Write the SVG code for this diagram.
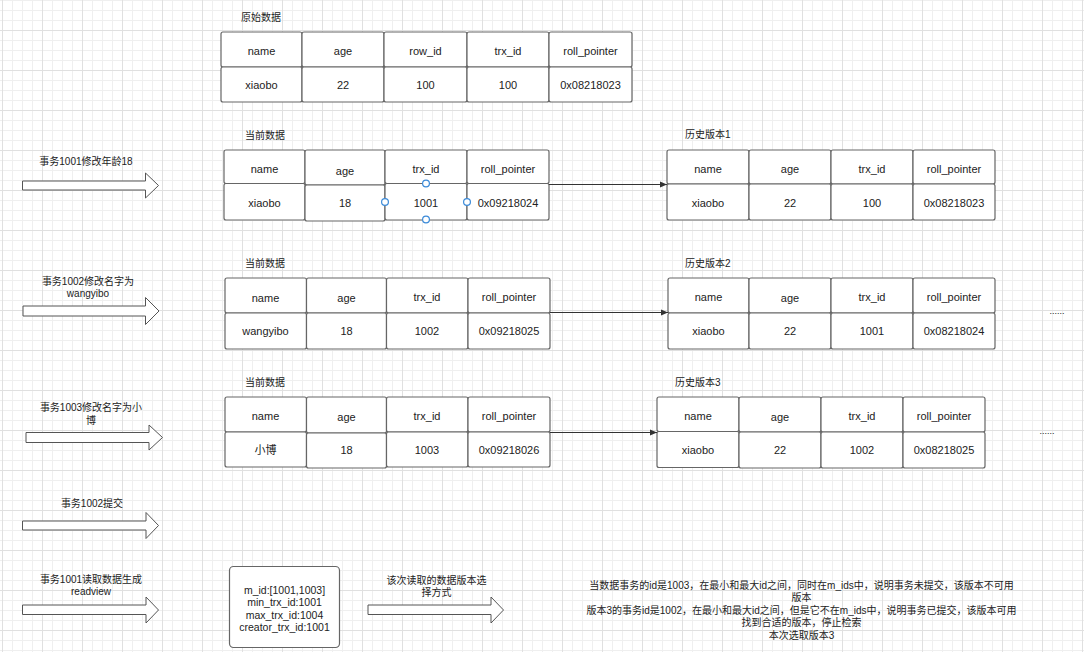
<svg xmlns="http://www.w3.org/2000/svg" width="1084" height="652" viewBox="0 0 1084 652">
<style>
.c{fill:#fff;stroke:#666;stroke-width:1.2}
.t{font-family:"Liberation Sans","Noto Sans CJK SC",sans-serif;font-size:11px;fill:#222;text-anchor:middle;dominant-baseline:central}
.z{font-family:"Liberation Sans","Noto Sans CJK SC",sans-serif;font-size:10px;fill:#222;dominant-baseline:central}
.m{text-anchor:middle}
.rv{font-size:10.5px}
.ba{fill:#fff;stroke:#555;stroke-width:1}
.cn{fill:none;stroke:#333;stroke-width:1}
.h{fill:#fff;stroke:#3b8ad8;stroke-width:1.2}
</style>
<defs>
<pattern id="grid" width="40" height="40" x="2" y="-10" patternUnits="userSpaceOnUse">
<rect width="40" height="40" fill="#fff"/>
<rect x="10" width="1" height="40" fill="#efefef"/><rect x="20" width="1" height="40" fill="#efefef"/><rect x="30" width="1" height="40" fill="#efefef"/>
<rect y="10" width="40" height="1" fill="#efefef"/><rect y="20" width="40" height="1" fill="#efefef"/><rect y="30" width="40" height="1" fill="#efefef"/>
<rect x="0" width="1" height="40" fill="#e0e0e0"/><rect y="0" width="40" height="1" fill="#e0e0e0"/>
</pattern>
<marker id="ah" markerWidth="8" markerHeight="8" refX="7" refY="4" orient="auto" markerUnits="userSpaceOnUse">
<path d="M0,1 L7,4 L0,7 Z" fill="#333"/>
</marker>
</defs>
<rect width="1084" height="652" fill="url(#grid)"/>

<g id="t-orig">
<text class="z" x="241" y="17">原始数据</text>
<rect class="c" x="221" y="32" width="81" height="35" rx="2"/><rect class="c" x="221" y="67" width="81" height="35" rx="2"/>
<rect class="c" x="302" y="32" width="82" height="35" rx="2"/><rect class="c" x="302" y="67" width="82" height="35" rx="2"/>
<rect class="c" x="384" y="32" width="83" height="35" rx="2"/><rect class="c" x="384" y="67" width="83" height="35" rx="2"/>
<rect class="c" x="467" y="32" width="82" height="35" rx="2"/><rect class="c" x="467" y="67" width="82" height="35" rx="2"/>
<rect class="c" x="549" y="32" width="83" height="35" rx="2"/><rect class="c" x="549" y="67" width="83" height="35" rx="2"/>
<text class="t" x="261.5" y="50.5">name</text><text class="t" x="261.5" y="85">xiaobo</text>
<text class="t" x="343" y="50.5">age</text><text class="t" x="343" y="85">22</text>
<text class="t" x="425.5" y="50.5">row_id</text><text class="t" x="425.5" y="85">100</text>
<text class="t" x="508" y="50.5">trx_id</text><text class="t" x="508" y="85">100</text>
<text class="t" x="590.5" y="50.5">roll_pointer</text><text class="t" x="590.5" y="85">0x08218023</text>
</g>

<g id="t-cur1">
<text class="z" x="245" y="135">当前数据</text>
<rect class="c" x="224" y="150" width="81" height="33.5" rx="2"/><rect class="c" x="224" y="183.5" width="81" height="36.5" rx="2"/>
<rect class="c" x="305" y="150" width="80" height="35" rx="2"/><rect class="c" x="305" y="185" width="80" height="36" rx="2"/>
<rect class="c" x="385" y="150" width="82" height="33.5" rx="2"/><rect class="c" x="385" y="183.5" width="82" height="36.5" rx="2"/>
<rect class="c" x="467" y="150" width="82" height="33.5" rx="2"/><rect class="c" x="467" y="183.5" width="82" height="36.5" rx="2"/>
<text class="t" x="264.5" y="169">name</text><text class="t" x="264.5" y="203">xiaobo</text>
<text class="t" x="345" y="170.5">age</text><text class="t" x="345" y="203">18</text>
<text class="t" x="426" y="168.5">trx_id</text><text class="t" x="426" y="203">1001</text>
<text class="t" x="508" y="168.5">roll_pointer</text><text class="t" x="508" y="203">0x09218024</text>
<circle class="h" cx="426" cy="183.5" r="3.4"/>
<circle class="h" cx="385" cy="202" r="3.4"/>
<circle class="h" cx="467" cy="202" r="3.4"/>
<circle class="h" cx="426" cy="219.5" r="3.4"/>
</g>

<g id="t-h1">
<text class="z" x="685" y="134">历史版本1</text>
<rect class="c" x="667" y="150" width="82" height="34" rx="2"/><rect class="c" x="667" y="184" width="82" height="36" rx="2"/>
<rect class="c" x="749" y="150" width="82" height="34" rx="2"/><rect class="c" x="749" y="184" width="82" height="36" rx="2"/>
<rect class="c" x="831" y="150" width="82" height="34" rx="2"/><rect class="c" x="831" y="184" width="82" height="36" rx="2"/>
<rect class="c" x="913" y="150" width="82" height="34" rx="2"/><rect class="c" x="913" y="184" width="82" height="36" rx="2"/>
<text class="t" x="708" y="168.5">name</text><text class="t" x="708" y="203">xiaobo</text>
<text class="t" x="790" y="169">age</text><text class="t" x="790" y="203">22</text>
<text class="t" x="872" y="168.5">trx_id</text><text class="t" x="872" y="203">100</text>
<text class="t" x="954" y="168.5">roll_pointer</text><text class="t" x="954" y="203">0x08218023</text>
</g>

<g id="t-cur2">
<text class="z" x="245" y="263">当前数据</text>
<rect class="c" x="225" y="278" width="81.5" height="35" rx="2"/><rect class="c" x="225" y="313" width="81.5" height="36" rx="2"/>
<rect class="c" x="306.5" y="278" width="80" height="35" rx="2"/><rect class="c" x="306.5" y="313" width="80" height="36" rx="2"/>
<rect class="c" x="386.5" y="278" width="81.5" height="35" rx="2"/><rect class="c" x="386.5" y="313" width="81.5" height="36" rx="2"/>
<rect class="c" x="468" y="278" width="82" height="35" rx="2"/><rect class="c" x="468" y="313" width="82" height="36" rx="2"/>
<text class="t" x="265.5" y="297.5">name</text><text class="t" x="265.5" y="331">wangyibo</text>
<text class="t" x="346.5" y="298">age</text><text class="t" x="346.5" y="331">18</text>
<text class="t" x="427" y="297">trx_id</text><text class="t" x="427" y="331">1002</text>
<text class="t" x="509" y="297">roll_pointer</text><text class="t" x="509" y="331">0x09218025</text>
</g>

<g id="t-h2">
<text class="z" x="685" y="263">历史版本2</text>
<rect class="c" x="668" y="278" width="81" height="35" rx="2"/><rect class="c" x="668" y="313" width="81" height="36" rx="2"/>
<rect class="c" x="749" y="278" width="82" height="35" rx="2"/><rect class="c" x="749" y="313" width="82" height="36" rx="2"/>
<rect class="c" x="831" y="278" width="82" height="35" rx="2"/><rect class="c" x="831" y="313" width="82" height="36" rx="2"/>
<rect class="c" x="913" y="278" width="82" height="35" rx="2"/><rect class="c" x="913" y="313" width="82" height="36" rx="2"/>
<text class="t" x="708.5" y="296.5">name</text><text class="t" x="708.5" y="331">xiaobo</text>
<text class="t" x="790" y="297.5">age</text><text class="t" x="790" y="331">22</text>
<text class="t" x="872" y="297">trx_id</text><text class="t" x="872" y="331">1001</text>
<text class="t" x="954" y="297">roll_pointer</text><text class="t" x="954" y="331">0x08218024</text>
<text class="t" x="1057" y="311" style="font-size:9px">......</text>
</g>

<g id="t-cur3">
<text class="z" x="245" y="382">当前数据</text>
<rect class="c" x="225" y="397" width="81.5" height="35" rx="2"/><rect class="c" x="225" y="432" width="81.5" height="35" rx="2"/>
<rect class="c" x="306.5" y="397" width="80" height="36" rx="2"/><rect class="c" x="306.5" y="433" width="80" height="35" rx="2"/>
<rect class="c" x="386.5" y="397" width="81.5" height="35" rx="2"/><rect class="c" x="386.5" y="432" width="81.5" height="35" rx="2"/>
<rect class="c" x="468" y="397" width="82" height="35" rx="2"/><rect class="c" x="468" y="432" width="82" height="35" rx="2"/>
<text class="t" x="265.5" y="415.5">name</text><text class="t" x="265.5" y="450">小博</text>
<text class="t" x="346.5" y="417">age</text><text class="t" x="346.5" y="450">18</text>
<text class="t" x="427" y="415.5">trx_id</text><text class="t" x="427" y="450">1003</text>
<text class="t" x="509" y="415.5">roll_pointer</text><text class="t" x="509" y="450">0x09218026</text>
</g>

<g id="t-h3">
<text class="z" x="675" y="382.5">历史版本3</text>
<rect class="c" x="657" y="397" width="82" height="34.5" rx="2"/><rect class="c" x="657" y="431.5" width="82" height="36" rx="2"/>
<rect class="c" x="739" y="397" width="82" height="35" rx="2"/><rect class="c" x="739" y="432" width="82" height="36" rx="2"/>
<rect class="c" x="821" y="397" width="82" height="35" rx="2"/><rect class="c" x="821" y="432" width="82" height="36" rx="2"/>
<rect class="c" x="903" y="397" width="82" height="35" rx="2"/><rect class="c" x="903" y="432" width="82" height="36" rx="2"/>
<text class="t" x="698" y="415.5">name</text><text class="t" x="698" y="450">xiaobo</text>
<text class="t" x="780" y="417">age</text><text class="t" x="780" y="450">22</text>
<text class="t" x="862" y="416">trx_id</text><text class="t" x="862" y="450">1002</text>
<text class="t" x="944" y="416">roll_pointer</text><text class="t" x="944" y="450">0x08218025</text>
<text class="t" x="1047" y="431" style="font-size:9px">......</text>
</g>

<g id="connectors">
<line class="cn" x1="549" y1="184.5" x2="667" y2="184.5" marker-end="url(#ah)"/>
<line class="cn" x1="550" y1="312.5" x2="668" y2="312.5" marker-end="url(#ah)"/>
<line class="cn" x1="550" y1="432.5" x2="657" y2="432.5" marker-end="url(#ah)"/>
</g>

<g id="step1">
<text class="z m" x="86" y="161">事务1001修改年龄18</text>
<polygon class="ba" points="22.5,181 145.5,181 145.5,173 158.5,185.5 145.5,198 145.5,190 22.5,190"/>
</g>
<g id="step2">
<text class="z m" x="88" y="281">事务1002修改名字为</text>
<text class="z m" x="88" y="293.5">wangyibo</text>
<polygon class="ba" points="23,306 145.5,306 145.5,297.5 159,311 145.5,324.5 145.5,316 23,316"/>
</g>
<g id="step3">
<text class="z m" x="91" y="407">事务1003修改名字为小</text>
<text class="z m" x="91" y="420">博</text>
<polygon class="ba" points="26,432.5 149,432.5 149,425 162.5,437.5 149,450 149,442.5 26,442.5"/>
</g>
<g id="step4">
<text class="z m" x="92" y="503">事务1002提交</text>
<polygon class="ba" points="22.5,521 146,521 146,512.5 158.5,525.5 146,538.5 146,530 22.5,530"/>
</g>
<g id="step5">
<text class="z m" x="91" y="579.5">事务1001读取数据生成</text>
<text class="z m" x="91" y="591.5">readview</text>
<polygon class="ba" points="22.5,605 146,605 146,597 158.5,610 146,623 146,614.5 22.5,614.5"/>
</g>

<g id="readview">
<rect class="c" x="229.5" y="566.5" width="110" height="81" rx="4"/>
<text class="t rv" x="284.5" y="589.5">m_id:[1001,1003]</text>
<text class="t rv" x="284.5" y="602">min_trx_id:1001</text>
<text class="t rv" x="284.5" y="614.5">max_trx_id:1004</text>
<text class="t rv" x="284.5" y="627">creator_trx_id:1001</text>
</g>

<g id="select">
<text class="z m" x="436.5" y="580">该次读取的数据版本选</text>
<text class="z m" x="436.5" y="592">择方式</text>
<polygon class="ba" points="368,605 491,605 491,597 503.5,610 491,623 491,614.5 368,614.5"/>
</g>

<g id="result">
<text class="z m" x="801.5" y="585.5">当数据事务的id是1003，在最小和最大id之间，同时在m_ids中，说明事务未提交，该版本不可用</text>
<text class="z m" x="801.5" y="597.5">版本</text>
<text class="z m" x="801.5" y="610">版本3的事务id是1002，在最小和最大id之间，但是它不在m_ids中，说明事务已提交，该版本可用</text>
<text class="z m" x="801.5" y="622.5">找到合适的版本，停止检索</text>
<text class="z m" x="801.5" y="635">本次选取版本3</text>
</g>
</svg>
